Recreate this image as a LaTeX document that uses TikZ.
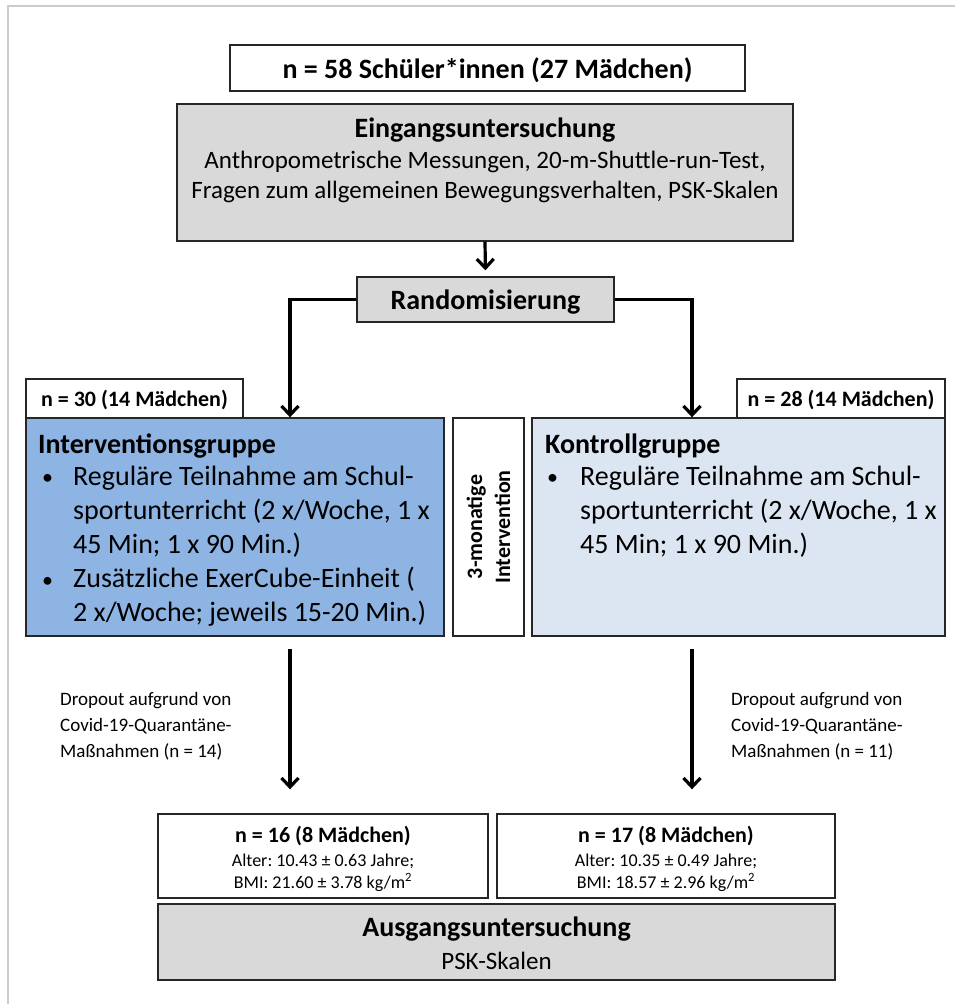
\documentclass[tikz,border=0pt]{standalone}
\usepackage{fontspec}
\setmainfont{Carlito}
\usetikzlibrary{arrows.meta}
\definecolor{boxgray}{HTML}{D9D9D9}
\definecolor{ivblue}{HTML}{8DB4E2}
\definecolor{kgblue}{HTML}{DCE6F2}
\definecolor{framegray}{HTML}{CCCCCC}
\frenchspacing
\begin{document}
\begin{tikzpicture}[x=1pt,y=-1pt,
  box/.style={draw=black!85, line width=1.4pt, inner sep=0pt, rectangle},
  arr/.style={line width=3.2pt, -{Straight Barb[length=9pt,width=17pt]}},
  fbig/.style={font=\fontsize{28}{32}\selectfont\bfseries},
  fmid/.style={font=\fontsize{25}{30}\selectfont},
  fitem/.style={font=\fontsize{28}{34}\selectfont},
  fbul/.style={font=\fontsize{22}{30}\selectfont},
  flab/.style={font=\fontsize{22}{26}\selectfont\bfseries},
  fsmall/.style={font=\fontsize{19}{23}\selectfont},
  ftiny/.style={font=\fontsize{18}{22}\selectfont},
  txt/.style={inner sep=0pt, anchor=base}
]
\useasboundingbox (0,0) rectangle (955,1004);
% page frame (top and left edge only)
\draw[framegray, line width=2pt] (8,1004) -- (8,6) -- (955,6);

% ---- boxes ----
\node[box, fill=white, minimum width=515pt, minimum height=46pt] (top) at (487.5,68) {};
\node[box, fill=boxgray, minimum width=616pt, minimum height=137pt] (ein) at (485,172.5) {};
\node[box, fill=boxgray, minimum width=257pt, minimum height=45pt] (rand) at (485.5,299.5) {};
\node[box, fill=white, minimum width=217pt, minimum height=39pt] (n30) at (134.5,398.5) {};
\node[box, fill=ivblue, minimum width=418pt, minimum height=218pt] (intv) at (235,527) {};
\node[box, fill=white, minimum width=71pt, minimum height=218pt] (mon) at (488.5,527) {};
\node[box, fill=kgblue, minimum width=413pt, minimum height=218pt] (kg) at (738.5,527) {};
\node[box, fill=white, minimum width=208pt, minimum height=39pt] (n28) at (841,398.5) {};
\node[box, fill=white, minimum width=330pt, minimum height=84pt] (n16) at (323,856) {};
\node[box, fill=white, minimum width=338pt, minimum height=84pt] (n17) at (666,856) {};
\node[box, fill=boxgray, minimum width=677pt, minimum height=76pt] (aus) at (496.5,942) {};

% ---- texts ----
\node[txt, fbig] (ttop) at (487.5,78) {n = 58 Schüler*innen (27 Mädchen)};
\node[txt, fbig] (tein) at (485,137) {Eingangsuntersuchung};
\node[txt, fmid] (tein2) at (485,168) {Anthropometrische Messungen, 20-m-Shuttle-run-Test,};
\node[txt, fmid] (tein3) at (485,198) {Fragen zum allgemeinen Bewegungsverhalten, PSK-Skalen};
\node[txt, fbig] (trand) at (485.5,309) {Randomisierung};
\node[txt, flab] (tn30) at (134.5,406) {n = 30 (14 Mädchen)};
\node[txt, flab] (tn28) at (841,406) {n = 28 (14 Mädchen)};

% Interventionsgruppe
\node[txt, fbig, anchor=base west] (tiv) at (38,453) {Interventionsgruppe};
\node[txt, fbul, anchor=base west] (ivb1) at (42,484) {•};
\node[txt, fbul, anchor=base west] (ivb2) at (42,587) {•};
\foreach \yy/\tt [count=\i] in {485/{Reguläre Teilnahme am Schul-},
    519/{sportunterricht (2 x/Woche, 1 x},
    553/{45 Min; 1 x 90 Min.)},
    587/{Zusätzliche ExerCube-Einheit (},
    621/{2 x/Woche; jeweils 15-20 Min.)}}
  \node[txt, fitem, anchor=base west] (ivl\i) at (73,\yy) {\tt};

% Kontrollgruppe
\node[txt, fbig, anchor=base west] (tkg) at (545,453) {Kontrollgruppe};
\node[txt, fbul, anchor=base west] (kgb1) at (547,484) {•};
\foreach \yy/\tt [count=\i] in {485/{Reguläre Teilnahme am Schul-},
    519/{sportunterricht (2 x/Woche, 1 x},
    553/{45 Min; 1 x 90 Min.)}}
  \node[txt, fitem, anchor=base west] (kgl\i) at (580,\yy) {\tt};

% 3-monatige Intervention
\node[inner sep=0pt, rotate=90, align=center, font=\fontsize{22}{28}\selectfont\bfseries] (tmon) at (mon.center) {3-monatige\\Intervention};

% Dropout notes
\foreach \yy/\tt [count=\i] in {705/{Dropout aufgrund von},
    731/{Covid-19-Quarantäne-},
    757/{Maßnahmen (n = 14)}}
  \node[txt, fsmall, anchor=base west] (dl\i) at (60,\yy) {\tt};
\foreach \yy/\tt [count=\i] in {705/{Dropout aufgrund von},
    731/{Covid-19-Quarantäne-},
    757/{Maßnahmen (n = 11)}}
  \node[txt, fsmall, anchor=base west] (dr\i) at (731,\yy) {\tt};

% Final groups
\node[txt, flab] (tn16) at (323,842) {n = 16 (8 Mädchen)};
\node[txt, ftiny] (tn16a) at (323,866) {Alter: 10.43 ± 0.63 Jahre;};
\node[txt, ftiny] (tn16b) at (323,888) {BMI: 21.60 ± 3.78 kg/m\textsuperscript{2}};
\node[txt, flab] (tn17) at (666,842) {n = 17 (8 Mädchen)};
\node[txt, ftiny] (tn17a) at (666,866) {Alter: 10.35 ± 0.49 Jahre;};
\node[txt, ftiny] (tn17b) at (666,888) {BMI: 18.57 ± 2.96 kg/m\textsuperscript{2}};
\node[txt, fbig] (taus) at (496.5,936) {Ausgangsuntersuchung};
\node[txt, font=\fontsize{25}{30}\selectfont] (taus2) at (496.5,969) {PSK-Skalen};

% ---- connectors ----
\draw[arr, shorten >=6pt] (ein.south) -- (rand.north);
\draw[arr] (rand.west) -| ([xshift=55pt]intv.north);
\draw[arr] (rand.east) -| ([xshift=-46.5pt]kg.north);
\draw[arr, shorten <=12pt, shorten >=24pt] ([xshift=55pt]intv.south) -- ([xshift=55pt]intv.south |- n16.north);
\draw[arr, shorten <=12pt, shorten >=24pt] ([xshift=-46.5pt]kg.south) -- ([xshift=-46.5pt]kg.south |- n17.north);
\end{tikzpicture}
\end{document}
